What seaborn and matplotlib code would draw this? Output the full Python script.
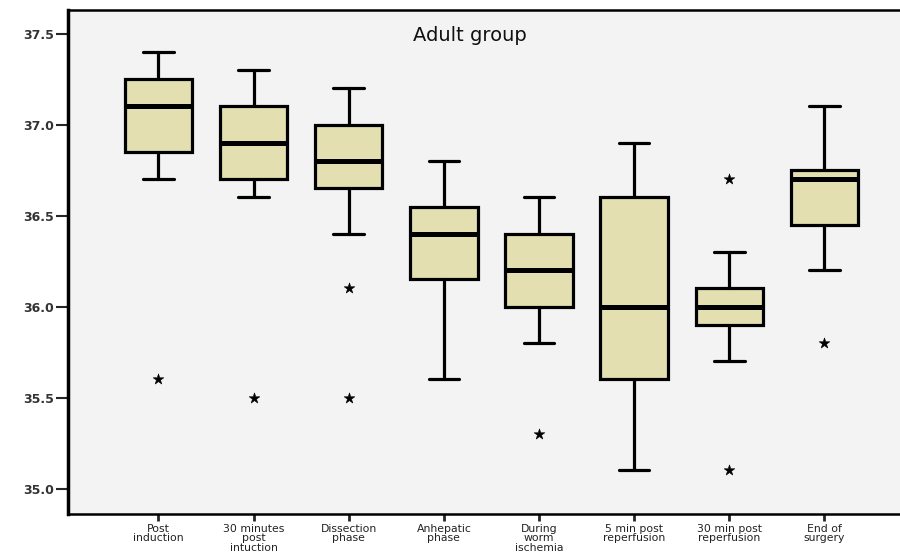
import matplotlib
matplotlib.use("Agg")
import matplotlib.pyplot as plt
import seaborn as sns
import pandas as pd

# phases on the x axis
categories = ["Post\ninduction", "30 minutes\npost\nintuction", "Dissection\nphase",
              "Anhepatic\nphase", "During\nworm\nischemia", "5 min post\nreperfusion",
              "30 min post\nreperfusion", "End of\nsurgery"]

# box statistics (temperature, deg C)
whisker_low = [36.7, 36.6, 36.4, 35.6, 35.8, 35.1, 35.7, 36.2]
q1 = [36.85, 36.7, 36.65, 36.15, 36.0, 35.6, 35.9, 36.45]
median = [37.1, 36.9, 36.8, 36.4, 36.2, 36.0, 36.0, 36.7]
q3 = [37.25, 37.1, 37.0, 36.55, 36.4, 36.6, 36.1, 36.75]
whisker_high = [37.4, 37.3, 37.2, 36.8, 36.6, 36.9, 36.3, 37.1]

# extreme values (stars)
outlier_cat = [0, 1, 2, 2, 4, 6, 6, 7]
outlier_val = [35.6, 35.5, 36.1, 35.5, 35.3, 36.7, 35.1, 35.8]

yticks = [35.0, 35.5, 36.0, 36.5, 37.0, 37.5]

sns.set_style("white")
plt.rcParams['font.family'] = ['DejaVu Sans']

fig = plt.figure(figsize=(9, 5.54), dpi=100)
ax = fig.add_axes([0.0756, 0.072, 0.925, 0.91])
ax.set_facecolor('#F3F3F3')

stats = []
for i in range(len(categories)):
    stats.append(dict(med=median[i], q1=q1[i], q3=q3[i],
                      whislo=whisker_low[i], whishi=whisker_high[i], fliers=[]))

ax.bxp(stats, positions=range(len(categories)), widths=0.71, capwidths=0.32,
       patch_artist=True, showfliers=False,
       boxprops=dict(facecolor='#E3DFB0', edgecolor='black', linewidth=2.3),
       medianprops=dict(color='black', linewidth=3.6, solid_capstyle='butt'),
       whiskerprops=dict(color='black', linewidth=2.3),
       capprops=dict(color='black', linewidth=2.3))

out_df = pd.DataFrame({'x': outlier_cat, 'y': outlier_val})
sns.scatterplot(data=out_df, x='x', y='y', marker='*', s=65, color='black',
                edgecolor='black', linewidth=0.4, ax=ax, zorder=5, legend=False)

ax.set_xlim(-0.95, 7.8)
ax.set_ylim(34.86, 37.63)
ax.set_yticks(yticks)
ax.set_yticklabels([f"{t:.1f}" for t in yticks], fontsize=9, fontweight='bold', color='#333333')
ax.set_xticks(range(len(categories)))
ax.set_xticklabels(categories, fontsize=7.8, linespacing=0.95, color='#222222')
ax.set_xlabel('')
ax.set_ylabel('')

ax.tick_params(axis='y', direction='out', length=9, width=1.5, left=True, pad=1)
ax.tick_params(axis='x', direction='out', length=5, width=2, bottom=True, pad=2)

ax.spines['left'].set_linewidth(2.5)
ax.spines['bottom'].set_linewidth(1.8)
ax.spines['top'].set_linewidth(1.8)
ax.spines['right'].set_visible(False)
for s in ax.spines.values():
    s.set_color('black')

ax.text(0.483, 0.95, "Adult group", transform=ax.transAxes, ha='center', va='center',
        fontsize=14, fontweight='medium', color='#111111')

fig.savefig("out.png", dpi=100)
